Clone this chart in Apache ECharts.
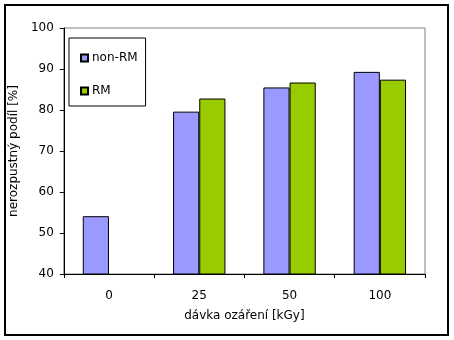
<!DOCTYPE html>
<html>
<head>
<meta charset="utf-8">
<script src="https://cdn.jsdelivr.net/npm/echarts@6/dist/echarts.min.js"></script>
<style>
  html, body { margin: 0; padding: 0; background: #fff; }
  #chart { width: 454px; height: 340px; }
</style>
</head>
<body>
<div id="chart"></div>
<script>
// Dose levels (kGy) and insoluble fraction (%) for both sample types
const doses = ['0', '25', '50', '100'];
const nonRM = [54.1, 79.6, 85.5, 89.3];
const rm = [null, 82.8, 86.7, 87.4];
const yTicks = { min: 40, max: 100, step: 10 };

const font = '"DejaVu Sans", Verdana, sans-serif';
const chart = echarts.init(document.getElementById('chart'), null, { renderer: 'canvas' });

chart.setOption({
  animation: false,
  backgroundColor: '#fff',
  textStyle: { fontFamily: font, color: '#000' },
  graphic: [
    {
      type: 'rect',
      shape: { x: 5, y: 5, width: 443, height: 330 },
      style: { fill: 'none', stroke: '#000', lineWidth: 2 },
      z: 100
    }
  ],
  grid: {
    left: 60, top: 28, width: 365, height: 246,
    show: true,
    borderColor: '#808080',
    borderWidth: 1,
    backgroundColor: '#fff'
  },
  legend: {
    orient: 'vertical',
    left: 69, top: 38,
    padding: [14, 8, 9, 11],
    itemGap: 21,
    itemWidth: 7,
    itemHeight: 7,
    icon: 'rect',
    borderColor: '#000',
    borderWidth: 1,
    textStyle: { fontFamily: font, fontSize: 12, color: '#000', padding: [0, 0, 0, -1] },
    data: ['non-RM', 'RM']
  },
  xAxis: {
    type: 'category',
    data: doses,
    name: 'dávka ozáření [kGy]',
    nameLocation: 'middle',
    nameGap: 36,
    nameTextStyle: { fontFamily: font, fontSize: 12, color: '#000' },
    axisLine: { lineStyle: { color: '#000', width: 1 } },
    axisTick: { show: true, length: 4, lineStyle: { color: '#000' } },
    axisLabel: { fontFamily: font, fontSize: 12, color: '#000', margin: 16 },
    splitLine: { show: false }
  },
  yAxis: {
    type: 'value',
    min: yTicks.min, max: yTicks.max, interval: yTicks.step,
    name: 'nerozpustný podíl [%]',
    nameLocation: 'middle',
    nameGap: 37,
    nameTextStyle: { fontFamily: font, fontSize: 12, color: '#000' },
    axisLine: { show: true, lineStyle: { color: '#000', width: 1 } },
    axisTick: { show: true, length: 4, lineStyle: { color: '#000' } },
    axisLabel: { fontFamily: font, fontSize: 12, color: '#000', margin: 10 },
    splitLine: { show: false }
  },
  series: [
    {
      name: 'non-RM',
      type: 'bar',
      data: nonRM,
      barGap: 0,
      barCategoryGap: '42%',
      itemStyle: { color: '#9999FF', borderColor: '#000', borderWidth: 1 }
    },
    {
      name: 'RM',
      type: 'bar',
      data: rm,
      barGap: 0,
      barCategoryGap: '42%',
      itemStyle: { color: '#99CC00', borderColor: '#000', borderWidth: 1 }
    }
  ]
});
</script>
</body>
</html>
